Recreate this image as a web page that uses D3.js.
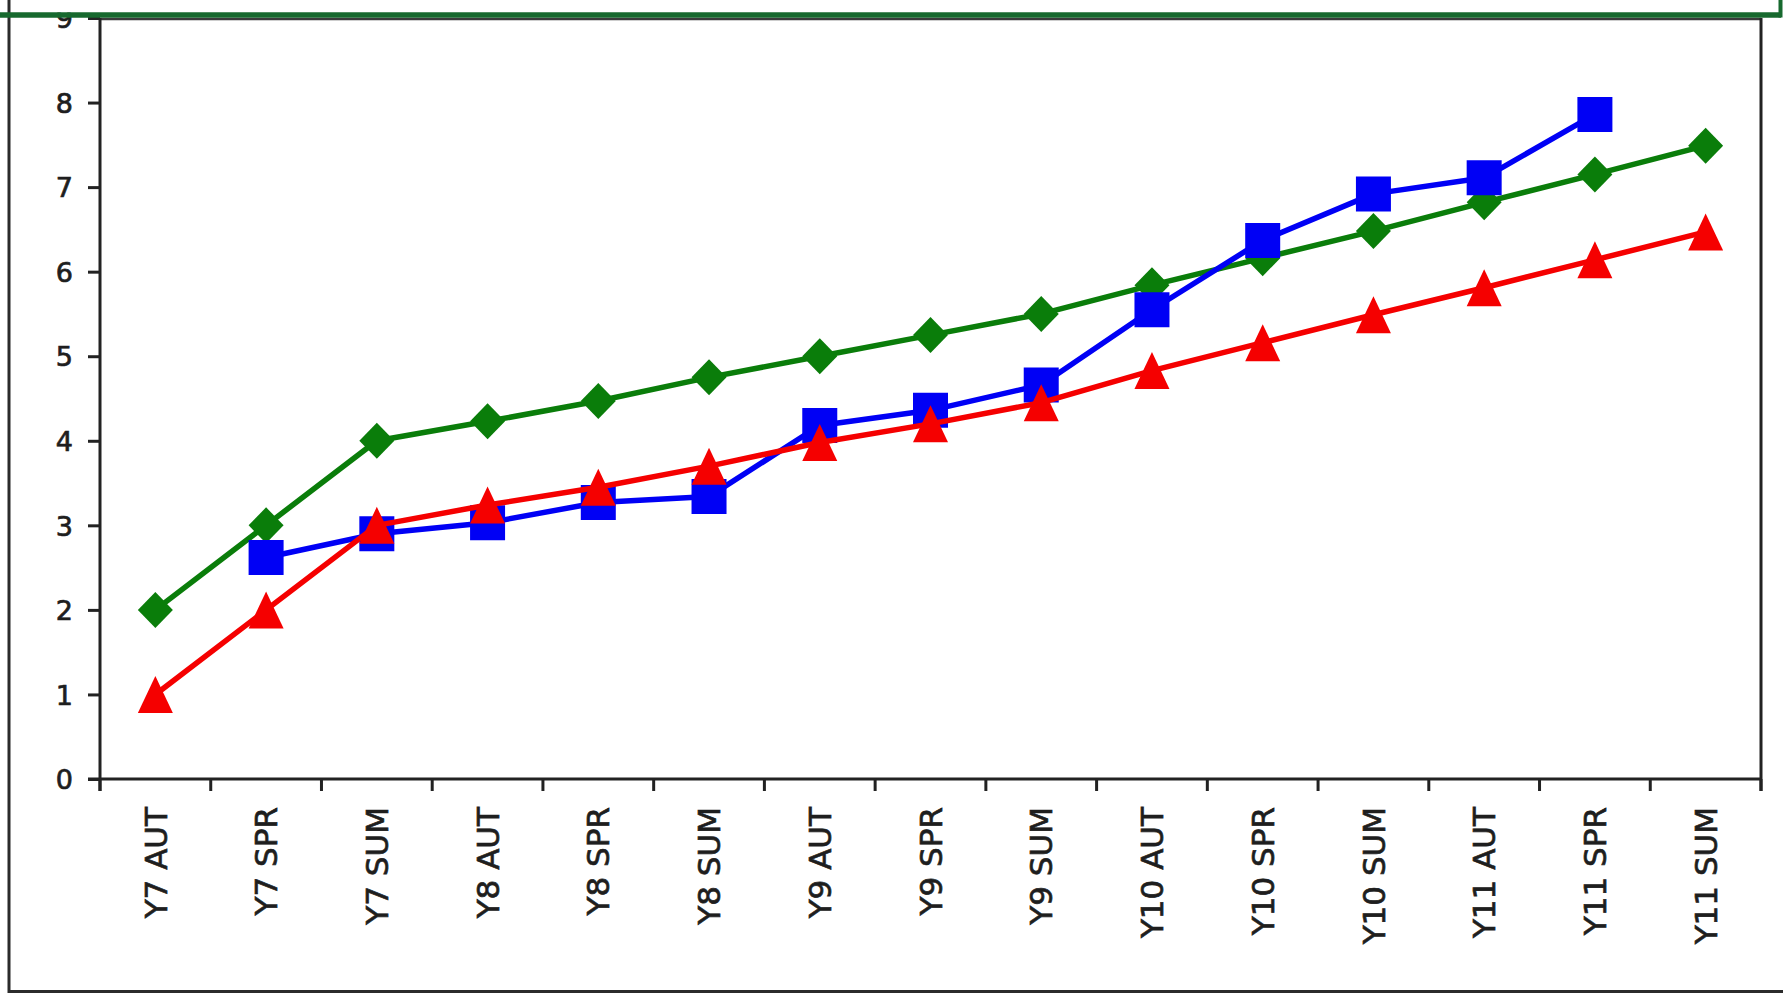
<!DOCTYPE html>
<html>
<head>
<meta charset="utf-8">
<script src="https://cdn.jsdelivr.net/npm/d3@7"></script>
<style>
  html, body { margin: 0; padding: 0; background: #fff; }
  svg { display: block; }
  text { font-family: "DejaVu Sans", Verdana, sans-serif; fill: #1e1e1e; stroke: #1e1e1e; stroke-width: 0.7px; }
</style>
</head>
<body>
<svg id="chart" width="1783" height="993"></svg>
<script>
// Terms along the x axis
const categories = ["Y7 AUT", "Y7 SPR", "Y7 SUM", "Y8 AUT", "Y8 SPR", "Y8 SUM",
  "Y9 AUT", "Y9 SPR", "Y9 SUM", "Y10 AUT", "Y10 SPR", "Y10 SUM",
  "Y11 AUT", "Y11 SPR", "Y11 SUM"];

// Upper target path (green diamonds)
const greenValues = [2, 3, 4, 4.23, 4.47, 4.75, 5, 5.25, 5.5, 5.84, 6.16, 6.48, 6.82, 7.15, 7.49];
// Pupil results (blue squares); no result for the first and last term
const blueValues = [null, 2.62, 2.9, 3.03, 3.27, 3.34, 4.18, 4.36, 4.66, 5.55, 6.37, 6.92, 7.11, 7.86, null];
// Lower target path (red triangles)
const redValues = [1, 2, 3, 3.24, 3.45, 3.7, 3.98, 4.2, 4.45, 4.83, 5.16, 5.49, 5.81, 6.14, 6.47];

const yTicks = [0, 1, 2, 3, 4, 5, 6, 7, 8, 9];

const svg = d3.select("#chart");
const W = 1783, H = 993;
const plot = { left: 100, right: 1761, top: 18, bottom: 779 };

const x = d3.scaleBand().domain(categories).range([plot.left, plot.right]).padding(0);
const cx = c => x(c) + x.bandwidth() / 2;
const y = d3.scaleLinear().domain([0, 9]).range([plot.bottom, plot.top]);

// Outer frame (left and bottom edges)
svg.append("line").attr("x1", 9).attr("x2", 9).attr("y1", 0).attr("y2", 993)
  .attr("stroke", "#2b2b2b").attr("stroke-width", 3);
svg.append("line").attr("x1", 9).attr("x2", W).attr("y1", 991.5).attr("y2", 991.5)
  .attr("stroke", "#2b2b2b").attr("stroke-width", 3);

// Plot area border (top and right)
svg.append("line").attr("x1", plot.left).attr("x2", plot.right)
  .attr("y1", plot.top + 1).attr("y2", plot.top + 1)
  .attr("stroke", "#3a3a3a").attr("stroke-width", 2.5);
svg.append("line").attr("x1", plot.right).attr("x2", plot.right)
  .attr("y1", plot.top).attr("y2", plot.bottom + 12)
  .attr("stroke", "#222").attr("stroke-width", 3);

// Y axis
const yAxis = d3.axisLeft(y).tickValues(yTicks).tickSize(12).tickPadding(15).tickFormat(d3.format("d"));
const gy = svg.append("g").attr("transform", `translate(${plot.left},0)`).call(yAxis);
gy.select(".domain").attr("stroke", "#222").attr("stroke-width", 3)
  .attr("d", `M0,${plot.top}V${plot.bottom + 12}`);
gy.selectAll(".tick line").attr("stroke", "#222").attr("stroke-width", 3);
gy.selectAll(".tick text").style("font-size", "27px").attr("fill", "#1e1e1e").attr("dy", "0.36em");

// X axis: baseline, boundary ticks and rotated labels
svg.append("line").attr("x1", plot.left - 12).attr("x2", plot.right)
  .attr("y1", plot.bottom).attr("y2", plot.bottom)
  .attr("stroke", "#222").attr("stroke-width", 3);
const bounds = categories.map(c => x(c)).concat([x.range()[1]]);
svg.append("g").selectAll("line").data(bounds).join("line")
  .attr("x1", d => d).attr("x2", d => d)
  .attr("y1", plot.bottom).attr("y2", plot.bottom + 12)
  .attr("stroke", "#222").attr("stroke-width", 3);
svg.append("g").selectAll("text").data(categories).join("text")
  .attr("transform", d => `translate(${cx(d)},${plot.bottom + 28}) rotate(-90)`)
  .attr("text-anchor", "end")
  .attr("dy", "0.36em")
  .style("font-size", "31px")
  .text(d => d);

// Marker shapes
const squareSym = { draw(ctx) { const h = 17.5; ctx.rect(-h, -h, 2 * h, 2 * h); } };
const diamondSym = { draw(ctx) { ctx.moveTo(0, -18); ctx.lineTo(17.5, 0); ctx.lineTo(0, 18); ctx.lineTo(-17.5, 0); ctx.closePath(); } };
const triangleSym = { draw(ctx) { ctx.moveTo(0, -18.5); ctx.lineTo(17.5, 18.5); ctx.lineTo(-17.5, 18.5); ctx.closePath(); } };

const series = [
  { name: "green", values: greenValues, color: "#0a7d0a", sym: diamondSym },
  { name: "blue", values: blueValues, color: "#0000f5", sym: squareSym },
  { name: "red", values: redValues, color: "#f50000", sym: triangleSym }
];

const line = d3.line()
  .defined(d => d.v != null)
  .x(d => cx(d.c))
  .y(d => y(d.v));

series.forEach(s => {
  const pts = categories.map((c, i) => ({ c, v: s.values[i] }));
  const g = svg.append("g").attr("class", "series-" + s.name);
  g.append("path").datum(pts)
    .attr("d", line)
    .attr("fill", "none")
    .attr("stroke", s.color)
    .attr("stroke-width", 5.5)
    .attr("stroke-linejoin", "round");
  g.selectAll("path.mark").data(pts.filter(d => d.v != null)).join("path")
    .attr("class", "mark")
    .attr("transform", d => `translate(${cx(d.c)},${y(d.v)})`)
    .attr("d", d3.symbol(s.sym))
    .attr("fill", s.color);
});

// Selection frame along the top edge
svg.append("rect").attr("x", 11).attr("y", 0).attr("width", W - 11).attr("height", 12.5).attr("fill", "#fff");
svg.append("line").attr("x1", 0).attr("x2", 1781).attr("y1", 15).attr("y2", 15)
  .attr("stroke", "#17692e").attr("stroke-width", 5.5);
svg.append("line").attr("x1", 1780.5).attr("x2", 1780.5).attr("y1", 0).attr("y2", 17.5)
  .attr("stroke", "#17692e").attr("stroke-width", 4);
</script>
</body>
</html>
